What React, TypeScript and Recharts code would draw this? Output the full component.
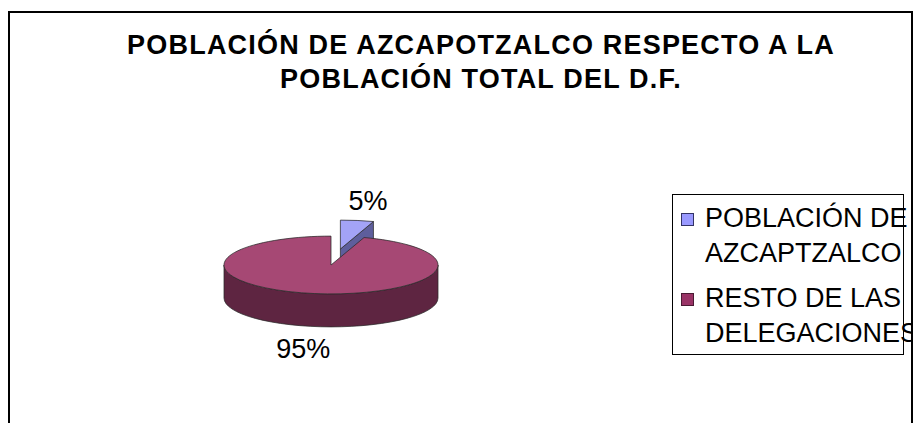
import React from "react";
import { PieChart, Pie, Cell, Legend } from "recharts";

const TITLE = "POBLACIÓN DE AZCAPOTZALCO RESPECTO A LA POBLACIÓN TOTAL DEL D.F.";
const names = ["POBLACIÓN DE AZCAPTZALCO", "RESTO DE LAS DELEGACIONES"];
const values = [5, 95];
const topColors = ["#A3A3F7", "#A64874"];
const sideColors = ["#5E5E9C", "#5E2541"];
const legendColors = ["#9999FF", "#993366"];
const legendBorders = ["#333366", "#4A1A33"];
const explodedName = names[0];

const data = names.map((name, i) => ({ name, value: values[i] }));

const FONT = "'Liberation Sans', Arial, sans-serif";
const TILT = 0.27;
const DEPTH = 33;
const EXPLODE = 60;
const RAD = Math.PI / 180;

function explodeOffset(name: string, mid: number) {
  if (name !== explodedName) return [0, 0];
  return [EXPLODE * Math.cos(mid * RAD), -EXPLODE * Math.sin(mid * RAD) * TILT];
}

// 3D elliptical slice built from the sector geometry recharts computes
function Slice3D(props: any) {
  const { cx, cy, outerRadius, startAngle, endAngle, payload } = props;
  const name = payload?.name ?? props.name;
  const i = names.indexOf(name);
  const hi = Math.max(startAngle, endAngle);
  const lo = Math.min(startAngle, endAngle);
  const [ox, oy] = explodeOffset(name, (hi + lo) / 2);
  const rx = outerRadius;
  const ry = rx * TILT;
  const x0 = cx + ox;
  const y0 = cy + oy;
  const pt = (a: number, dz = 0) =>
    `${x0 + rx * Math.cos(a * RAD)} ${y0 - ry * Math.sin(a * RAD) + dz}`;
  const stroke = { stroke: "#2a2a2a", strokeWidth: 0.75, strokeLinejoin: "round" as const };

  const walls: string[] = [];
  for (let k = -2; k <= 1; k++) {
    const a1 = Math.min(hi, 360 * k);
    const a2 = Math.max(lo, 360 * k - 180);
    if (a1 - a2 > 0.01) {
      walls.push(
        `M ${pt(a1)} A ${rx} ${ry} 0 0 1 ${pt(a2)} L ${pt(a2, DEPTH)} A ${rx} ${ry} 0 0 0 ${pt(a1, DEPTH)} Z`
      );
    }
  }
  const faces: string[] = [];
  const face = (a: number) =>
    `M ${x0} ${y0} L ${pt(a)} L ${pt(a, DEPTH)} L ${x0} ${y0 + DEPTH} Z`;
  if (Math.cos(hi * RAD) < -1e-6) faces.push(face(hi));
  if (Math.cos(lo * RAD) > 1e-6) faces.push(face(lo));

  const large = hi - lo > 180 ? 1 : 0;
  const top = `M ${x0} ${y0} L ${pt(hi)} A ${rx} ${ry} 0 ${large} 1 ${pt(lo)} Z`;

  return (
    <g>
      {walls.map((d, j) => (
        <path key={"w" + j} d={d} fill={sideColors[i]} {...stroke} />
      ))}
      {faces.map((d, j) => (
        <path key={"f" + j} d={d} fill={sideColors[i]} {...stroke} />
      ))}
      <path d={top} fill={topColors[i]} {...stroke} />
    </g>
  );
}

const renderLabel = (props: any) => {
  const { cx, cy, outerRadius, midAngle, percent, payload } = props;
  const name = payload?.name ?? props.name;
  const [ox, oy] = explodeOffset(name, midAngle);
  const rx = outerRadius;
  const ry = rx * TILT;
  const s = Math.sin(midAngle * RAD);
  const c = Math.cos(midAngle * RAD);
  const x = cx + ox + (rx + 70) * c;
  const edgeY = cy + oy - ry * s + (s < 0 ? DEPTH : 0);
  const y = s < 0 ? edgeY + 31 : edgeY - 10;
  return (
    <text x={x} y={y} textAnchor="middle" fontFamily={FONT} fontSize={27} fill="#000">
      {Math.round(percent * 100) + "%"}
    </text>
  );
};

const renderLegend = ({ payload }: any) => (
  <div
    style={{
      width: 232,
      height: 161,
      border: "1px solid #000",
      boxSizing: "border-box",
      background: "#fff",
      fontFamily: FONT,
      fontSize: 27,
      lineHeight: "35px",
      color: "#000",
    }}
  >
    {(payload || []).map((entry: any, i: number) => (
      <div
        key={entry.value}
        style={{
          position: "relative",
          marginTop: i === 0 ? 6 : 10,
          paddingLeft: 32,
          width: 230,
          whiteSpace: "normal",
        }}
      >
        <span
          style={{
            position: "absolute",
            left: 8,
            top: 12,
            width: 11,
            height: 11,
            background: legendColors[i],
            border: `1px solid ${legendBorders[i]}`,
          }}
        />
        {entry.value}
      </div>
    ))}
  </div>
);

export default function App() {
  return (
    <div
      style={{
        position: "fixed",
        left: 0,
        top: 0,
        width: 914,
        height: 423,
        background: "#fff",
        overflow: "hidden",
      }}
    >
      <div
        style={{
          position: "absolute",
          left: 8,
          top: 11,
          width: 905,
          height: 450,
          border: "2px solid #000",
          boxSizing: "border-box",
          overflow: "hidden",
        }}
      >
        <div style={{ position: "absolute", left: -10, top: -13, width: 914, height: 423 }}>
          <div
            style={{
              position: "absolute",
              left: 106,
              top: 28,
              width: 750,
              textAlign: "center",
              fontFamily: FONT,
              fontWeight: "bold",
              fontSize: 27,
              letterSpacing: 1.2,
              lineHeight: "34px",
              color: "#000",
            }}
          >
            {TITLE}
          </div>
          <PieChart width={914} height={423} margin={{ top: 0, right: 0, bottom: 0, left: 0 }}>
            <Pie
              data={data}
              dataKey="value"
              nameKey="name"
              cx={331}
              cy={265}
              outerRadius={107}
              startAngle={90}
              endAngle={-270}
              shape={Slice3D}
              activeShape={Slice3D}
              label={renderLabel}
              labelLine={false}
              isAnimationActive={false}
            >
              {data.map((d, i) => (
                <Cell key={d.name} fill={topColors[i]} />
              ))}
            </Pie>
            <Legend
              layout="vertical"
              align="right"
              verticalAlign="middle"
              content={renderLegend}
              wrapperStyle={{ left: 672, top: 194, width: 232, height: 161, right: "auto", bottom: "auto" }}
            />
          </PieChart>
        </div>
      </div>
    </div>
  );
}
